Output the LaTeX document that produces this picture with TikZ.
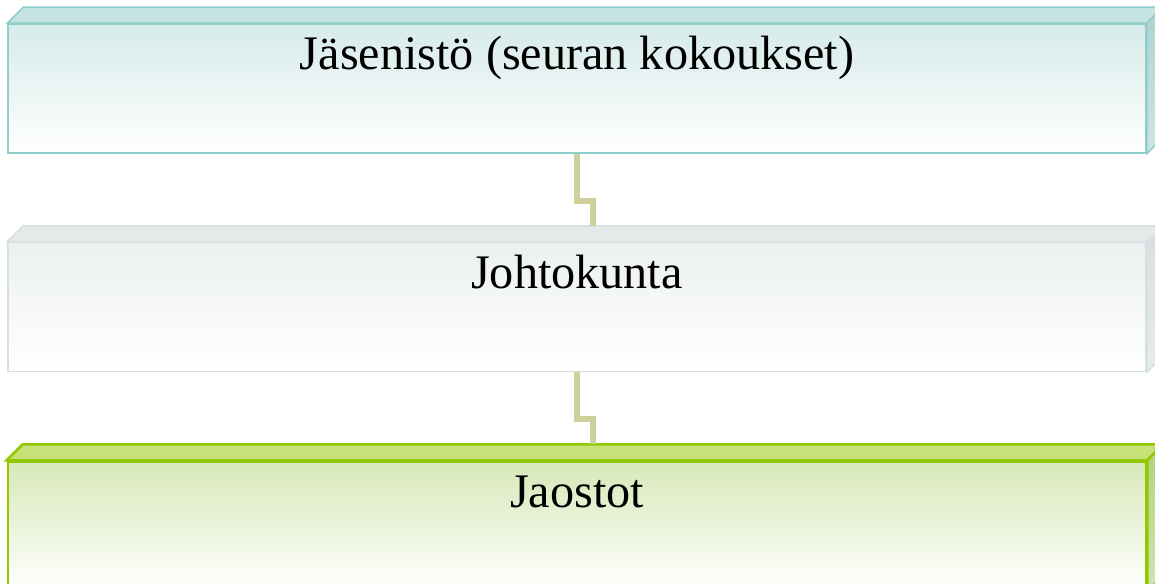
\documentclass[tikz,border=0pt]{standalone}
\usepackage{fontspec}
\setmainfont{Liberation Serif}
\usetikzlibrary{positioning,calc}

\definecolor{tealline}{HTML}{8FCECA}
\definecolor{tealtop}{HTML}{C4E3E1}
\definecolor{tealfront}{HTML}{D6EBE9}
\definecolor{tealside}{HTML}{AED3D1}
\definecolor{grayline}{HTML}{D6E0E0}
\definecolor{graytop}{HTML}{E4EAEA}
\definecolor{grayfront}{HTML}{ECF0F1}
\definecolor{grayside}{HTML}{D6DFDF}
\definecolor{greenline}{HTML}{92C800}
\definecolor{greentop}{HTML}{C6E279}
\definecolor{greenfront}{HTML}{D7E8B8}
\definecolor{greenside}{HTML}{B2D27C}
\definecolor{connline}{HTML}{CFD09B}

\begin{document}
\begin{tikzpicture}[x=1pt,y=-1pt,
	box/.style = {minimum width=1138pt, inner xsep=0pt, inner ysep=0pt,
		text height=46pt, text depth=83pt,
		font=\fontsize{48.2}{56}\selectfont, line width=1.5pt},
	conn/.style = {draw=connline, line width=6pt, line join=miter}]
	\clip (0,0) rectangle (1155,583);
	\node[box, draw=tealline, top color=tealfront, bottom color=white] (jas) at (577,88.5) {Jäsenistö (seuran kokoukset)};
	\node[box, draw=grayline, top color=grayfront, bottom color=white] (joh) [below=88pt of jas] {Johtokunta};
	\node[box, draw=greenline, top color=greenfront, bottom color=white, line width=2.5pt] (jao) [below=88pt of joh] {Jaostot};
	% top faces
	\draw[tealline, line width=1.5pt, fill=tealtop] (jas.north west) -- ++(16,-16) -- ($(jas.north east)+(16,-16)$) -- (jas.north east) -- cycle;
	\draw[grayline, line width=1.5pt, fill=graytop] (joh.north west) -- ++(16,-16) -- ($(joh.north east)+(16,-16)$) -- (joh.north east) -- cycle;
	\draw[greenline, line width=2.5pt, fill=greentop] (jao.north west) -- ++(16,-16) -- ($(jao.north east)+(16,-16)$) -- (jao.north east) -- cycle;
	% side faces
	\draw[tealline, line width=1.5pt, top color=tealside, bottom color=tealside!60!white] (jas.north east) -- ++(16,-16) -- ($(jas.south east)+(16,-16)$) -- (jas.south east) -- cycle;
	\draw[grayline, line width=1.5pt, top color=grayside, bottom color=grayside!60!white] (joh.north east) -- ++(16,-16) -- ($(joh.south east)+(16,-16)$) -- (joh.south east) -- cycle;
	\draw[greenline, line width=2.5pt, top color=greenside, bottom color=greenside!60!white] (jao.north east) -- ++(16,-16) -- ($(jao.south east)+(16,-16)$) -- (jao.south east) -- cycle;
	% connectors
	\coordinate (joh top) at ($(joh.north)+(16,-16)$);
	\coordinate (jao top) at ($(jao.north)+(16,-16)$);
	\draw[conn] (jas.south) -- ++(0,47) -| (joh top);
	\draw[conn] (joh.south) -- ++(0,47) -| (jao top);
\end{tikzpicture}
\end{document}
